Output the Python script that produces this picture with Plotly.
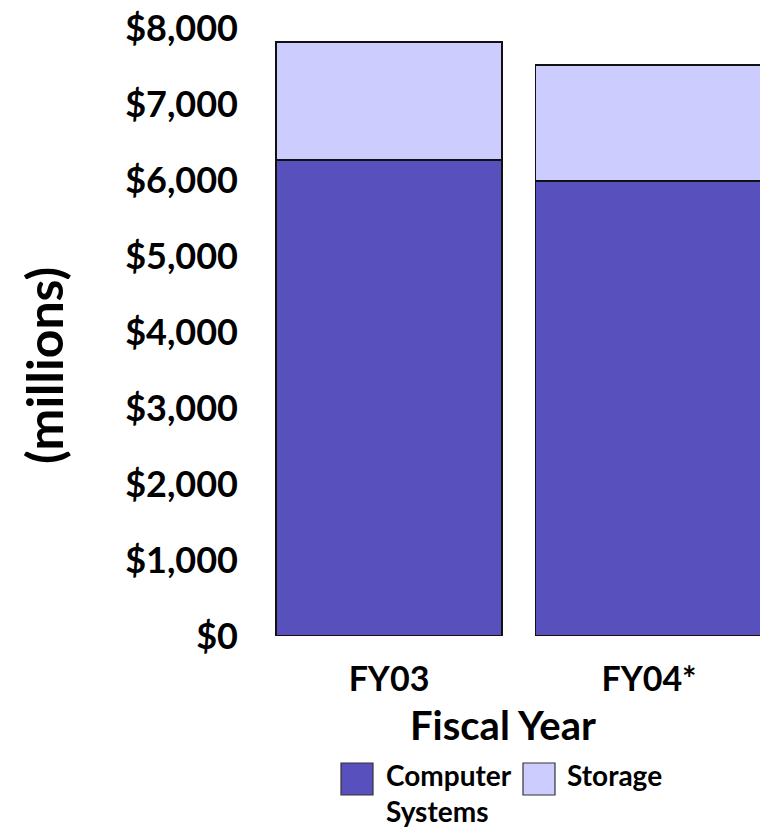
import plotly.graph_objects as go

categories = ["FY03", "FY04*"]
computer_systems = [6263, 5987]
storage = [1553, 1526]
tick_vals = [0, 1000, 2000, 3000, 4000, 5000, 6000, 7000, 8000]
tick_text = ["$0", "$1,000", "$2,000", "$3,000", "$4,000", "$5,000", "$6,000", "$7,000", "$8,000"]
series_names = ["Computer<br>Systems", "Storage"]
colors = ["#5850BC", "#CCCCFF"]

FONT = "Lato"
W, H = 760, 827
L, T, B = 259, 28, 191

fig = go.Figure()
for name, vals, col in zip(series_names, [computer_systems, storage], colors):
    fig.add_trace(go.Bar(
        x=categories, y=vals, name=name, width=0.87,
        marker=dict(color=col, line=dict(color="#111111", width=1.2)),
        showlegend=False,
    ))

fig.update_layout(
    width=W, height=H,
    margin=dict(l=L, r=0, t=T, b=B),
    barmode="stack",
    plot_bgcolor="white", paper_bgcolor="white",
    font=dict(family=FONT, color="black", weight="bold"),
    xaxis=dict(range=[-0.5, 1.427], showgrid=False, showline=False, zeroline=False,
               tickfont=dict(size=34, family=FONT, weight="bold"), ticklabelstandoff=20,
               title=None),
    yaxis=dict(range=[0, 8000], tickvals=tick_vals, ticktext=tick_text,
               showgrid=False, showline=False, zeroline=False,
               tickfont=dict(size=36, family=FONT, weight="bold"), ticklabelstandoff=20,
               title=None),
)

# axis titles
fig.add_annotation(text="Fiscal Year", xref="paper", yref="paper",
                   x=(503 - L) / (W - L), y=-(725 - (H - B)) / (H - B - T),
                   showarrow=False, font=dict(size=40, family=FONT, weight="bold"),
                   xanchor="center", yanchor="middle")
fig.add_annotation(text="(millions)", xref="paper", yref="paper",
                   x=-(L - 44) / (W - L), y=((H - B) - 366) / (H - B - T),
                   showarrow=False, textangle=-90,
                   font=dict(size=50, family=FONT, weight="bold"),
                   xanchor="center", yanchor="middle")

# legend (manual)
def px_x(x):
    return (x - L) / (W - L)

def px_y(y):
    return ((H - B) - y) / (H - B - T)

legend_items = [(341, 384, series_names[0], colors[0]), (523, 565, series_names[1], colors[1])]
for x0, tx, name, col in legend_items:
    fig.add_shape(type="rect", xref="paper", yref="paper",
                  x0=px_x(x0), x1=px_x(x0 + 32), y0=px_y(795), y1=px_y(763),
                  fillcolor=col, line=dict(color="#333333", width=1.2))
    fig.add_annotation(text=name, xref="paper", yref="paper",
                       x=px_x(tx), y=px_y(756), showarrow=False,
                       xanchor="left", yanchor="top", align="left",
                       font=dict(size=28, family=FONT, weight="bold"))

fig.write_html("out.html")
